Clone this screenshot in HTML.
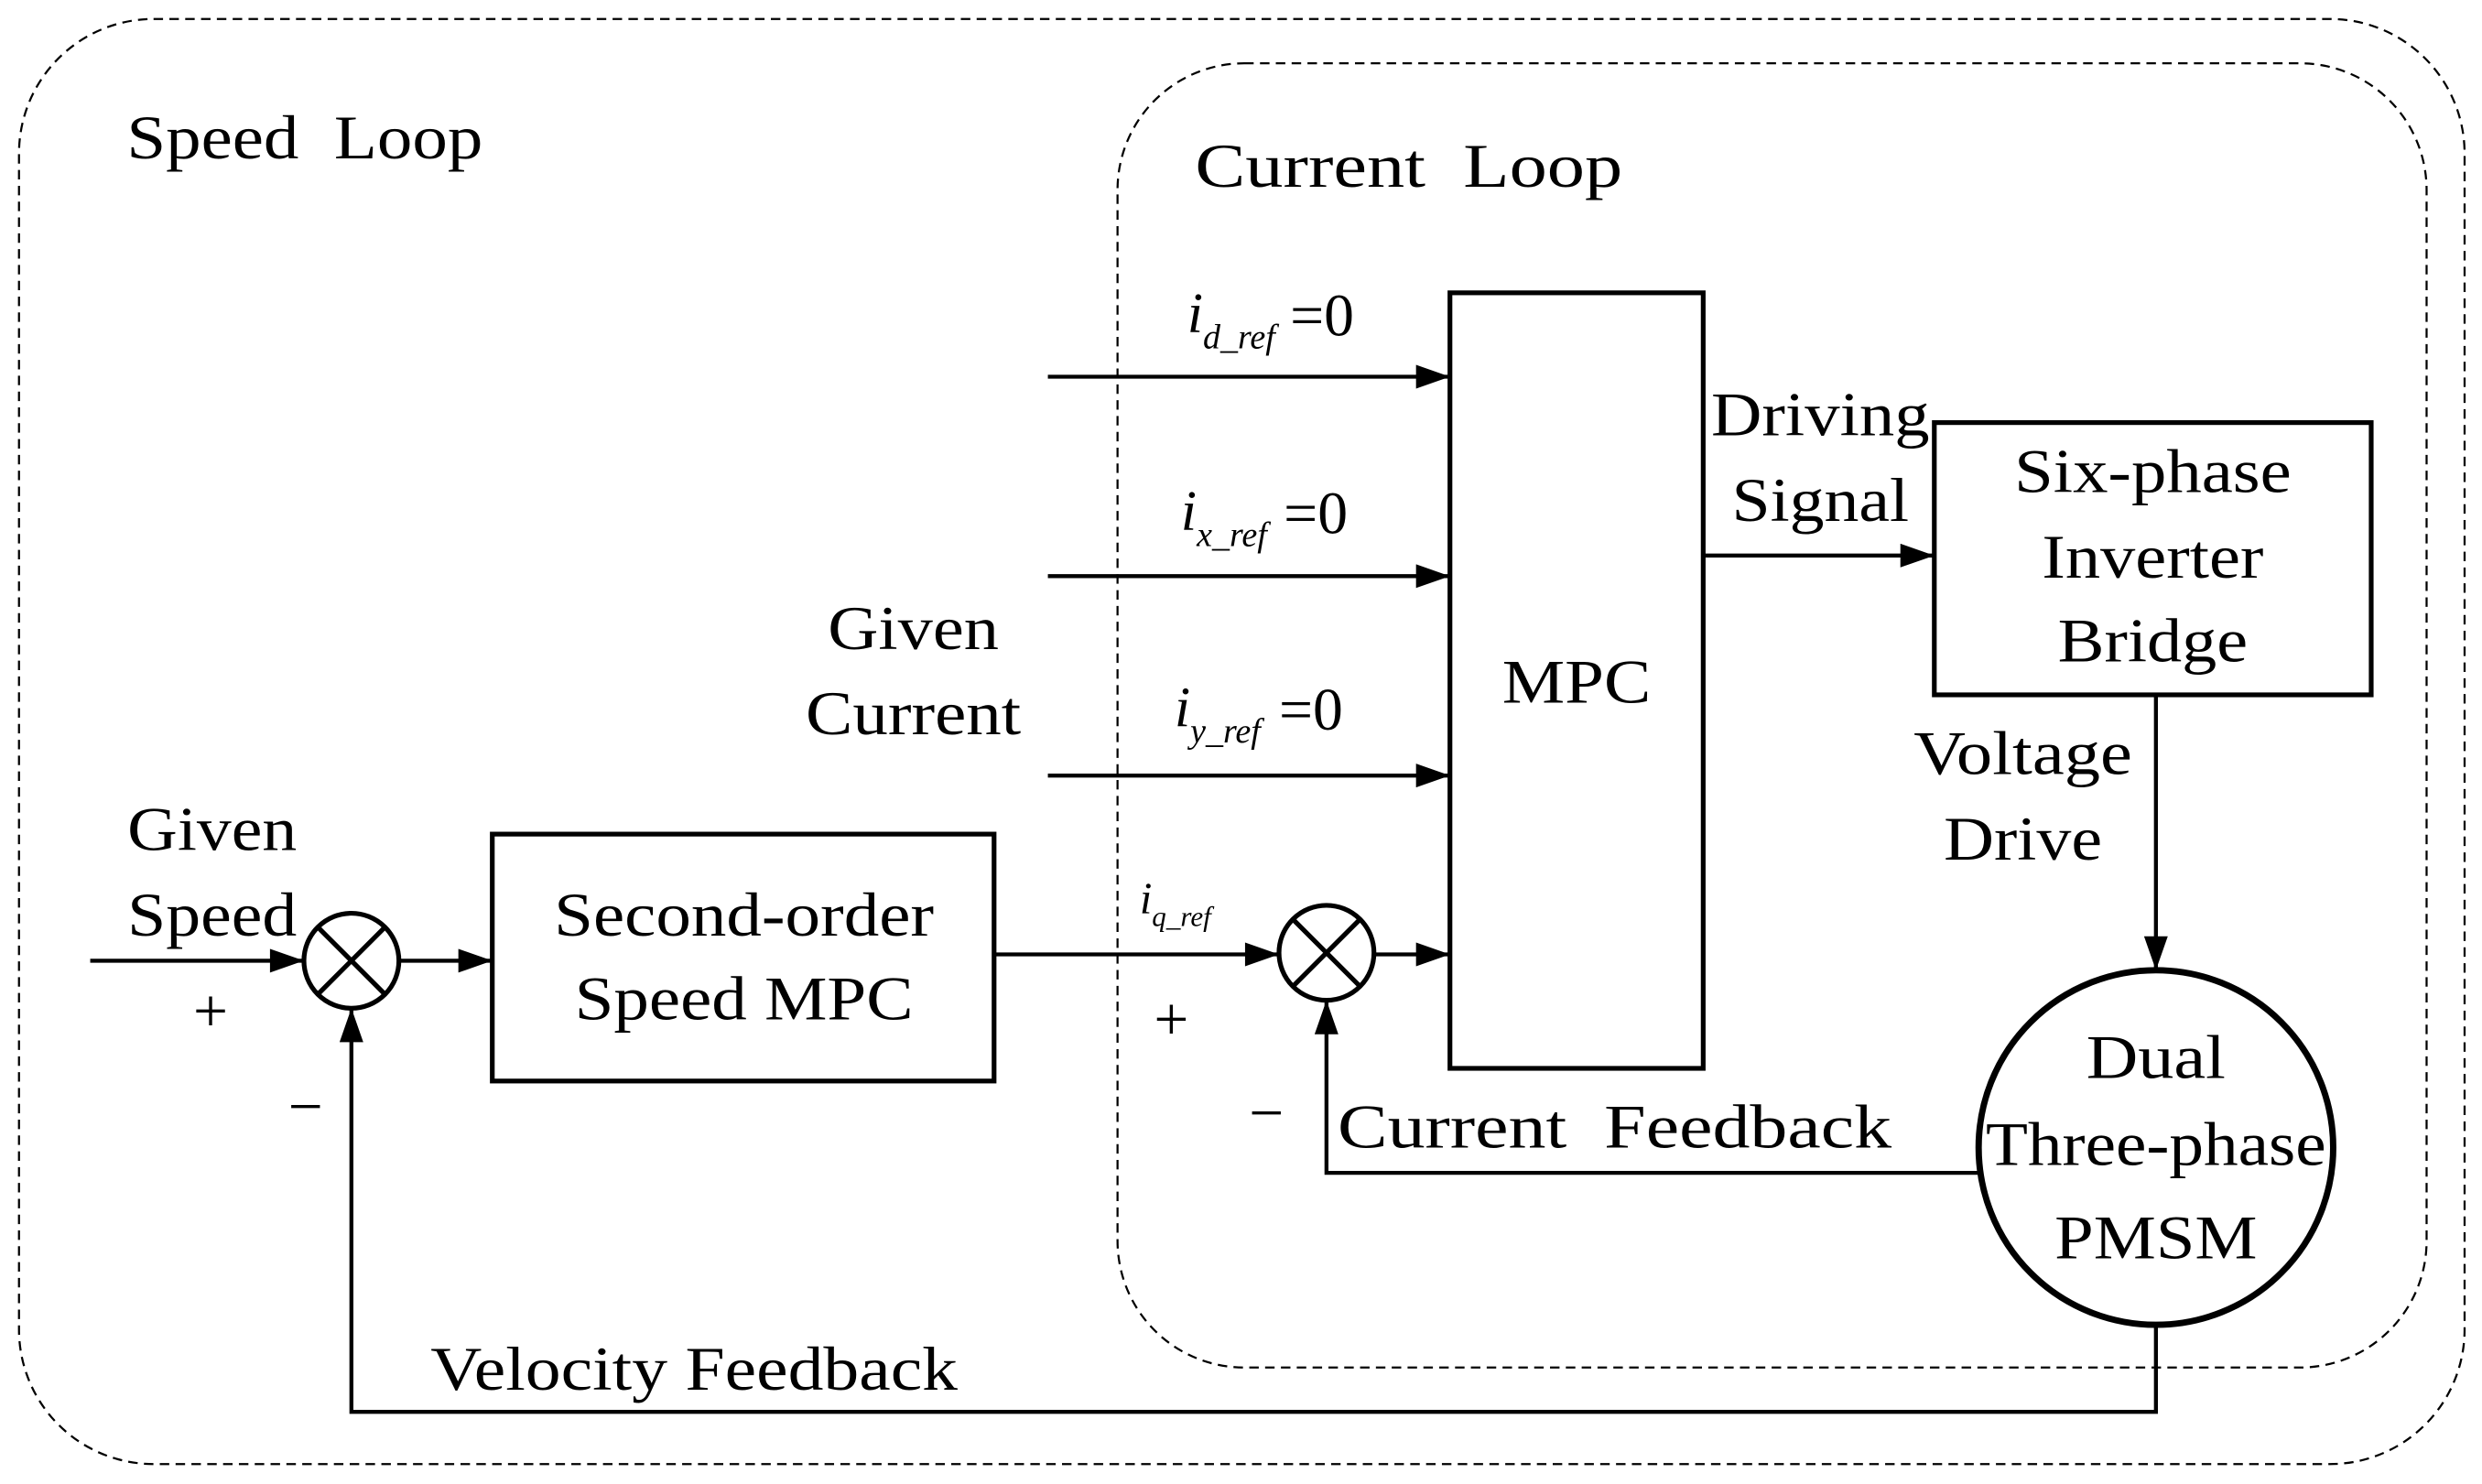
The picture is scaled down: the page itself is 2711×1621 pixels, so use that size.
<!DOCTYPE html>
<html><head><meta charset="utf-8"><style>
html,body{margin:0;padding:0;background:#fff;}
svg{display:block;}
text{font-family:"Liberation Serif",serif;fill:#000;}
</style></head><body>
<svg width="2711" height="1621" viewBox="0 0 1568 937.6" preserveAspectRatio="none" xmlns="http://www.w3.org/2000/svg">
<defs>
<marker id="b" viewBox="0 0 20 14" markerWidth="22" markerHeight="15" refX="20" refY="7" orient="auto" markerUnits="userSpaceOnUse"><path d="M0,0 L20,7 L0,14 Z"/></marker></defs>
<rect x="12" y="12" width="1545" height="913" rx="85" fill="none" stroke="#000" stroke-width="1.3" stroke-dasharray="6,4"/>
<rect x="706" y="40" width="827" height="824" rx="80" fill="none" stroke="#000" stroke-width="1.3" stroke-dasharray="6,4"/>
<g font-size="39" lengthAdjust="spacingAndGlyphs">
<text x="80" y="100" textLength="225" lengthAdjust="spacingAndGlyphs" xml:space="preserve">Speed  Loop</text>
<text x="755" y="118" textLength="270" lengthAdjust="spacingAndGlyphs" xml:space="preserve">Current  Loop</text>
<text x="845" y="725" textLength="350" lengthAdjust="spacingAndGlyphs" xml:space="preserve">Current  Feedback</text>
<text x="272" y="878" textLength="333" lengthAdjust="spacingAndGlyphs">Velocity Feedback</text>
</g>
<g stroke="#000" stroke-width="3" fill="none">
<rect x="916" y="185" width="160" height="490"/>
<rect x="1222" y="267" width="276" height="172"/>
<rect x="311" y="527" width="317" height="156"/>
<circle cx="1362" cy="725" r="112" stroke-width="4"/>
<circle cx="222" cy="607" r="30"/>
<path d="M201,586 L243,628 M243,586 L201,628"/>
<circle cx="838" cy="602" r="30"/>
<path d="M817,581 L859,623 M859,581 L817,623"/>
</g>
<g stroke="#000" stroke-width="2.5" fill="none" marker-end="url(#b)">
<path d="M57,607 L192,607"/>
<path d="M252,607 L311,607"/>
<path d="M628,603 L808,603"/>
<path d="M868,603 L916,603"/>
<path d="M662,238 L916,238"/>
<path d="M662,364 L916,364"/>
<path d="M662,490 L916,490"/>
<path d="M1076,351 L1222,351"/>
<path d="M1362,439 L1362,613"/>
<path d="M1250,741 L838,741 L838,632"/>
<path d="M1362,837 L1362,892 L222,892 L222,637"/>
</g>
<g font-size="39" text-anchor="middle">
<text x="996" y="444" textLength="94" lengthAdjust="spacingAndGlyphs">MPC</text>
<text x="1360" y="311" textLength="175" lengthAdjust="spacingAndGlyphs">Six-phase</text>
<text x="1360" y="365" textLength="140" lengthAdjust="spacingAndGlyphs">Inverter</text>
<text x="1360" y="418" textLength="120" lengthAdjust="spacingAndGlyphs">Bridge</text>
<text x="470" y="591" textLength="240" lengthAdjust="spacingAndGlyphs">Second-order</text>
<text x="470" y="644" textLength="214" lengthAdjust="spacingAndGlyphs">Speed MPC</text>
<text x="1362" y="681" textLength="88" lengthAdjust="spacingAndGlyphs">Dual</text>
<text x="1362" y="736" textLength="215" lengthAdjust="spacingAndGlyphs">Three-phase</text>
<text x="1362" y="795" textLength="128" lengthAdjust="spacingAndGlyphs">PMSM</text>
<text x="134" y="537" textLength="107" lengthAdjust="spacingAndGlyphs">Given</text>
<text x="134" y="591" textLength="107" lengthAdjust="spacingAndGlyphs">Speed</text>
<text x="577" y="410" textLength="108" lengthAdjust="spacingAndGlyphs">Given</text>
<text x="577" y="464" textLength="136" lengthAdjust="spacingAndGlyphs">Current</text>
<text x="1150" y="275" textLength="138" lengthAdjust="spacingAndGlyphs">Driving</text>
<text x="1150" y="329" textLength="112" lengthAdjust="spacingAndGlyphs">Signal</text>
<text x="1278" y="489" textLength="138" lengthAdjust="spacingAndGlyphs">Voltage</text>
<text x="1278" y="543" textLength="100" lengthAdjust="spacingAndGlyphs">Drive</text>
<text x="133" y="652">+</text>
<text x="740" y="657">+</text>
<text x="193" y="712">−</text>
<text x="800" y="716">−</text>
</g>
<g font-style="italic">
<text x="750" y="210" font-size="36">i<tspan font-size="22" dy="10">d_ref</tspan></text>
<text x="815" y="212" font-size="38" font-style="normal">=0</text>
<text x="746" y="335" font-size="36">i<tspan font-size="22" dy="10">x_ref</tspan></text>
<text x="811" y="337" font-size="38" font-style="normal">=0</text>
<text x="742" y="459" font-size="36">i<tspan font-size="22" dy="10">y_ref</tspan></text>
<text x="808" y="461" font-size="38" font-style="normal">=0</text>
<text x="720" y="577" font-size="28">i<tspan font-size="18" dy="8">q_ref</tspan></text>
</g>
</svg>
</body></html>
